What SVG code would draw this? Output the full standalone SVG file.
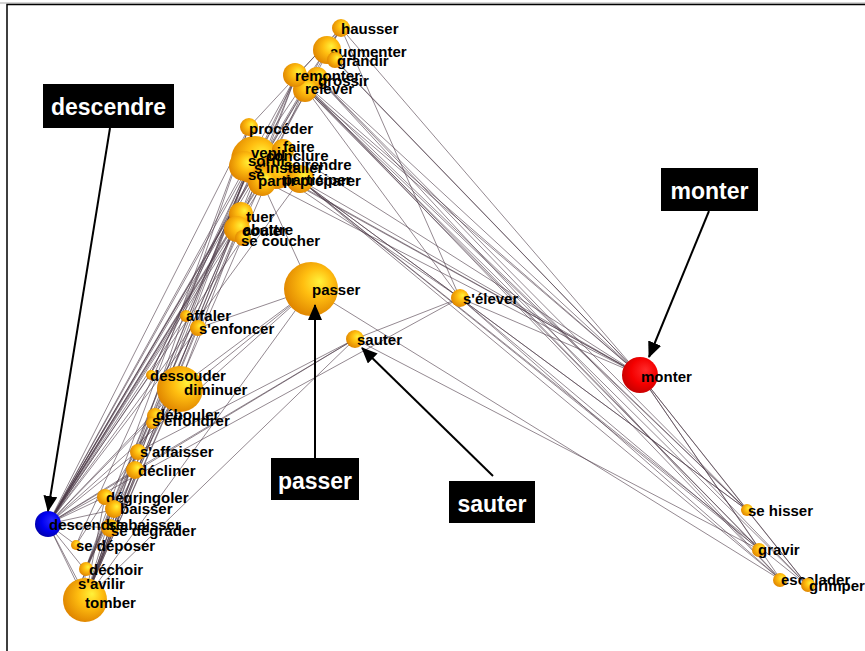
<svg xmlns="http://www.w3.org/2000/svg" width="865" height="651" viewBox="0 0 865 651">
<defs>
<radialGradient id="gO" cx="0.58" cy="0.42" r="0.6" fx="0.66" fy="0.36">
<stop offset="0" stop-color="#fff23a"/><stop offset="0.45" stop-color="#ffbe10"/><stop offset="1" stop-color="#e08600"/>
</radialGradient>
<radialGradient id="gR" cx="0.58" cy="0.42" r="0.6" fx="0.66" fy="0.36">
<stop offset="0" stop-color="#ff2a2a"/><stop offset="0.6" stop-color="#f40000"/><stop offset="1" stop-color="#c80000"/>
</radialGradient>
<radialGradient id="gB" cx="0.58" cy="0.42" r="0.6" fx="0.66" fy="0.36">
<stop offset="0" stop-color="#2a2aff"/><stop offset="0.6" stop-color="#0000f0"/><stop offset="1" stop-color="#0000b0"/>
</radialGradient>
<marker id="ahb" viewBox="0 0 16 14" refX="15" refY="7" markerWidth="16" markerHeight="14" markerUnits="userSpaceOnUse" orient="auto">
<path d="M0,0 L16,7 L0,14 Z" fill="#000"/>
</marker>
</defs>
<style>
.e line{stroke:#4a3846;stroke-width:0.7;stroke-opacity:0.85}
.o{fill:url(#gO)}
.l{font-family:"Liberation Sans",Arial,sans-serif;font-size:15px;font-weight:bold;fill:#000}
.cb{fill:#000}
.ct{font-family:"Liberation Sans",Arial,sans-serif;font-size:23px;font-weight:bold;fill:#fff}
.ar{stroke:#000;stroke-width:2;fill:none;marker-end:url(#ahb)}
</style>
<rect x="0" y="0" width="865" height="651" fill="#fff"/>
<line x1="0" y1="3" x2="865" y2="3" stroke="#aaa" stroke-width="1"/>
<rect x="7" y="4.5" width="900" height="700" fill="none" stroke="#000" stroke-width="1.5"/>

<g id="connectors" class="e">
<line x1="48" y1="524" x2="341" y2="28"/><line x1="48" y1="524" x2="326" y2="50"/><line x1="48" y1="524" x2="296" y2="76"/><line x1="48" y1="524" x2="305" y2="88"/><line x1="48" y1="524" x2="316" y2="76"/><line x1="48" y1="524" x2="249" y2="127"/><line x1="48" y1="524" x2="252" y2="160"/><line x1="48" y1="524" x2="272" y2="170"/><line x1="48" y1="524" x2="283" y2="148"/><line x1="48" y1="524" x2="262" y2="180"/><line x1="48" y1="524" x2="300" y2="180"/><line x1="48" y1="524" x2="240" y2="214"/><line x1="48" y1="524" x2="238" y2="228"/><line x1="48" y1="524" x2="243" y2="238"/><line x1="48" y1="524" x2="311" y2="289"/><line x1="48" y1="524" x2="186" y2="316"/><line x1="48" y1="524" x2="198" y2="328"/><line x1="48" y1="524" x2="150" y2="375"/><line x1="48" y1="524" x2="178" y2="388"/><line x1="48" y1="524" x2="155" y2="415"/><line x1="48" y1="524" x2="137" y2="452"/><line x1="48" y1="524" x2="135" y2="470"/><line x1="48" y1="524" x2="105" y2="497"/><line x1="48" y1="524" x2="112" y2="510"/><line x1="48" y1="524" x2="110" y2="528"/><line x1="48" y1="524" x2="76" y2="545"/><line x1="48" y1="524" x2="85" y2="570"/><line x1="48" y1="524" x2="80" y2="585"/><line x1="48" y1="524" x2="85" y2="600"/><line x1="48" y1="524" x2="355" y2="339"/><line x1="48" y1="524" x2="460" y2="298"/>
<line x1="85" y1="600" x2="296" y2="76"/><line x1="85" y1="600" x2="249" y2="127"/><line x1="85" y1="600" x2="252" y2="160"/><line x1="85" y1="600" x2="272" y2="170"/><line x1="85" y1="600" x2="240" y2="214"/><line x1="85" y1="600" x2="238" y2="228"/><line x1="85" y1="600" x2="178" y2="388"/><line x1="85" y1="600" x2="198" y2="328"/><line x1="85" y1="600" x2="155" y2="415"/><line x1="85" y1="600" x2="137" y2="452"/><line x1="85" y1="600" x2="135" y2="470"/><line x1="85" y1="600" x2="112" y2="510"/><line x1="85" y1="600" x2="110" y2="528"/><line x1="85" y1="600" x2="105" y2="497"/><line x1="85" y1="600" x2="311" y2="289"/><line x1="85" y1="600" x2="355" y2="339"/><line x1="85" y1="600" x2="85" y2="570"/>
<line x1="85" y1="570" x2="252" y2="160"/><line x1="85" y1="570" x2="240" y2="214"/><line x1="85" y1="570" x2="249" y2="127"/><line x1="85" y1="570" x2="178" y2="388"/><line x1="85" y1="570" x2="305" y2="88"/>
<line x1="80" y1="585" x2="252" y2="160"/><line x1="80" y1="585" x2="240" y2="214"/><line x1="76" y1="545" x2="252" y2="160"/><line x1="76" y1="545" x2="178" y2="388"/>
<line x1="640" y1="375" x2="341" y2="28"/><line x1="640" y1="375" x2="326" y2="50"/><line x1="640" y1="375" x2="335" y2="60"/><line x1="640" y1="375" x2="296" y2="76"/><line x1="640" y1="375" x2="316" y2="76"/><line x1="640" y1="375" x2="305" y2="88"/><line x1="640" y1="375" x2="283" y2="148"/><line x1="640" y1="375" x2="300" y2="180"/><line x1="640" y1="375" x2="272" y2="170"/><line x1="640" y1="375" x2="460" y2="298"/><line x1="640" y1="375" x2="747" y2="510"/><line x1="640" y1="375" x2="760" y2="550"/><line x1="640" y1="375" x2="781" y2="580"/><line x1="640" y1="375" x2="808" y2="586"/><line x1="640" y1="375" x2="252" y2="160"/><line x1="640" y1="375" x2="262" y2="180"/>
<line x1="747" y1="510" x2="296" y2="76"/><line x1="747" y1="510" x2="305" y2="88"/><line x1="747" y1="510" x2="316" y2="76"/><line x1="747" y1="510" x2="300" y2="180"/><line x1="747" y1="510" x2="460" y2="298"/>
<line x1="760" y1="550" x2="296" y2="76"/><line x1="760" y1="550" x2="305" y2="88"/><line x1="760" y1="550" x2="300" y2="180"/><line x1="760" y1="550" x2="460" y2="298"/><line x1="760" y1="550" x2="355" y2="339"/>
<line x1="781" y1="580" x2="296" y2="76"/><line x1="781" y1="580" x2="316" y2="76"/><line x1="781" y1="580" x2="300" y2="180"/><line x1="781" y1="580" x2="460" y2="298"/><line x1="781" y1="580" x2="311" y2="289"/>
<line x1="808" y1="586" x2="305" y2="88"/><line x1="808" y1="586" x2="316" y2="76"/><line x1="808" y1="586" x2="300" y2="180"/><line x1="808" y1="586" x2="747" y2="510"/>
<line x1="355" y1="339" x2="460" y2="298"/><line x1="355" y1="339" x2="137" y2="452"/><line x1="355" y1="339" x2="135" y2="470"/>
<line x1="311" y1="289" x2="198" y2="328"/><line x1="311" y1="289" x2="252" y2="160"/><line x1="311" y1="289" x2="178" y2="388"/><line x1="311" y1="289" x2="155" y2="415"/>
<line x1="460" y1="298" x2="341" y2="28"/><line x1="460" y1="298" x2="305" y2="88"/><line x1="460" y1="298" x2="300" y2="180"/><line x1="460" y1="298" x2="272" y2="170"/>
<line x1="341" y1="28" x2="296" y2="76"/><line x1="341" y1="28" x2="252" y2="160"/><line x1="341" y1="28" x2="249" y2="127"/><line x1="341" y1="28" x2="240" y2="214"/>
<line x1="296" y1="76" x2="178" y2="388"/><line x1="296" y1="76" x2="150" y2="375"/><line x1="296" y1="76" x2="186" y2="316"/>
<line x1="252" y1="160" x2="150" y2="375"/><line x1="252" y1="160" x2="137" y2="452"/>
</g>

<g id="n-hausser"><circle class="o" cx="341" cy="28" r="9"/><text class="l" x="341" y="34">hausser</text></g>
<g id="n-augmenter"><circle class="o" cx="327" cy="50" r="14"/><text class="l" x="330" y="57">augmenter</text></g>
<g id="n-grandir"><circle class="o" cx="335" cy="60" r="8"/><text class="l" x="337" y="66">grandir</text></g>
<g id="n-grossir"><circle class="o" cx="317" cy="78" r="11"/><text class="l" x="318" y="86">grossir</text></g>
<g id="n-relever"><circle class="o" cx="305" cy="90" r="12"/><text class="l" x="305" y="94">relever</text></g>
<g id="n-remonter"><circle class="o" cx="295" cy="75" r="12"/><text class="l" x="295" y="81">remonter</text></g>

<g id="n-cluster">
<circle class="o" cx="255" cy="160" r="24"/><circle class="o" cx="244" cy="166" r="15"/><circle class="o" cx="283" cy="150" r="11"/><circle class="o" cx="276" cy="171" r="18"/><circle class="o" cx="262" cy="182" r="14"/><circle class="o" cx="300" cy="179" r="14"/><circle class="o" cx="249" cy="127" r="9"/>
<text class="l" x="249" y="134">procéder</text>
<text class="l" x="283" y="152">faire</text>
<text class="l" x="251" y="158">venir</text>
<text class="l" x="266" y="161">conclure</text>
<text class="l" x="248" y="166">sortir</text>
<text class="l" x="284" y="170">se rendre</text>
<text class="l" x="254" y="173">s'installer</text>
<text class="l" x="248" y="180">se</text>
<text class="l" x="258" y="186">partir</text>
<text class="l" x="283" y="185">participer</text>
<text class="l" x="300" y="186">préparer</text>
</g>
<g id="n-tuer"><circle class="o" cx="241" cy="214" r="12"/><circle class="o" cx="237" cy="229" r="13"/><circle class="o" cx="243" cy="238" r="8"/>
<text class="l" x="246" y="222">tuer</text><text class="l" x="243" y="235">abattre</text><text class="l" x="242" y="236">couler</text><text class="l" x="241" y="246">se coucher</text></g>

<g id="n-passer"><circle class="o" cx="311" cy="289" r="27"/><text class="l" x="312" y="295">passer</text></g>
<g id="n-selever"><circle class="o" cx="460" cy="298" r="9"/><text class="l" x="463" y="304">s'élever</text></g>
<g id="n-sauter"><circle class="o" cx="355" cy="339" r="9"/><text class="l" x="357" y="345">sauter</text></g>
<g id="n-monter"><circle fill="url(#gR)" cx="640" cy="375" r="18"/><text class="l" x="641" y="382">monter</text></g>

<g id="n-affaler"><circle class="o" cx="186" cy="316" r="6"/><text class="l" x="186" y="321">affaler</text></g>
<g id="n-senfoncer"><circle class="o" cx="198" cy="328" r="8"/><text class="l" x="199" y="334">s'enfoncer</text></g>
<g id="n-diminuer"><circle class="o" cx="180" cy="389" r="23"/><text class="l" x="184" y="395">diminuer</text></g>
<g id="n-dessouder"><circle class="o" cx="151" cy="375" r="5"/><text class="l" x="150" y="381">dessouder</text></g>
<g id="n-debouler"><circle class="o" cx="155" cy="416" r="8"/><circle class="o" cx="152" cy="423" r="6"/><text class="l" x="156" y="420">débouler</text><text class="l" x="152" y="426">s'effondrer</text></g>
<g id="n-saffaisser"><circle class="o" cx="138" cy="452" r="8"/><text class="l" x="140" y="457">s'affaisser</text></g>
<g id="n-decliner"><circle class="o" cx="135" cy="470" r="9"/><text class="l" x="138" y="476">décliner</text></g>
<g id="n-degringoler"><circle class="o" cx="105" cy="497" r="8"/><text class="l" x="106" y="503">dégringoler</text></g>
<g id="n-baisser"><circle class="o" cx="114" cy="509" r="9"/><text class="l" x="120" y="514">baisser</text></g>
<g id="n-sabaisser"><circle class="o" cx="110" cy="528" r="9"/><text class="l" x="108" y="530">s'abaisser</text><text class="l" x="111" y="536">se dégrader</text></g>
<g id="n-descendre"><circle fill="url(#gB)" cx="48" cy="524" r="13"/><text class="l" x="49" y="530">descendre</text></g>
<g id="n-sedeposer"><circle class="o" cx="76" cy="545" r="5"/><text class="l" x="76" y="551">se déposer</text></g>
<g id="n-tomber"><circle class="o" cx="85" cy="600" r="22"/><text class="l" x="85" y="608">tomber</text></g>
<g id="n-dechoir"><circle class="o" cx="86" cy="569" r="7"/><text class="l" x="89" y="575">déchoir</text></g>
<g id="n-savilir"><text class="l" x="78" y="589">s'avilir</text></g>

<g id="n-sehisser"><circle class="o" cx="747" cy="510" r="6"/><text class="l" x="748" y="516">se hisser</text></g>
<g id="n-gravir"><circle class="o" cx="759" cy="550" r="7"/><text class="l" x="758" y="555">gravir</text></g>
<g id="n-escalader"><circle class="o" cx="780" cy="580" r="7"/><text class="l" x="781" y="585">escalader</text></g>
<g id="n-grimper"><circle class="o" cx="808" cy="585" r="7"/><text class="l" x="809" y="591">grimper</text></g>

<g id="callouts">
<line class="ar" x1="110" y1="128" x2="48" y2="511"/>
<line class="ar" x1="709" y1="211" x2="649" y2="357"/>
<line class="ar" x1="315" y1="458" x2="315" y2="305"/>
<line class="ar" x1="493" y1="476" x2="362" y2="348"/>
<g id="c-descendre"><rect class="cb" x="43" y="84" width="131" height="44"/><text class="ct" x="108.5" y="115" text-anchor="middle">descendre</text></g>
<g id="c-monter"><rect class="cb" x="661" y="168" width="97" height="43"/><text class="ct" x="709.5" y="199" text-anchor="middle">monter</text></g>
<g id="c-passer"><rect class="cb" x="271" y="458" width="88" height="42"/><text class="ct" x="315" y="489" text-anchor="middle">passer</text></g>
<g id="c-sauter"><rect class="cb" x="449" y="481" width="86" height="42"/><text class="ct" x="492" y="512" text-anchor="middle">sauter</text></g>
</g>
</svg>
